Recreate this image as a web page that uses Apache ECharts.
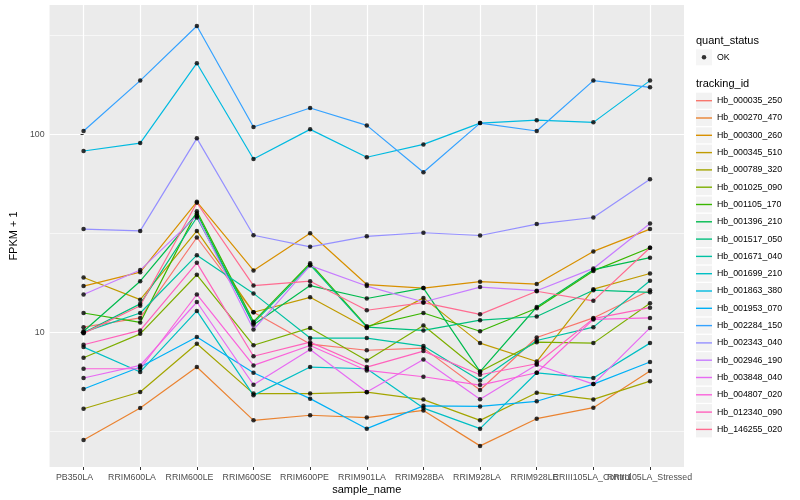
<!DOCTYPE html>
<html><head><meta charset="utf-8">
<script src="https://cdn.jsdelivr.net/npm/echarts@6/dist/echarts.min.js"></script>
<style>html,body{margin:0;padding:0;background:#fff}#c{width:800px;height:500px}</style>
</head><body><div id="c"></div>
<script>
const categories = ["PB350LA","RRIM600LA","RRIM600LE","RRIM600SE","RRIM600PE","RRIM901LA","RRIM928BA","RRIM928LA","RRIM928LE","RRIII105LA_Control","RRIII105LA_Stressed"];
const trackingIds = ["Hb_000035_250","Hb_000270_470","Hb_000300_260","Hb_000345_510","Hb_000789_320","Hb_001025_090","Hb_001105_170","Hb_001396_210","Hb_001517_050","Hb_001671_040","Hb_001699_210","Hb_001863_380","Hb_001953_070","Hb_002284_150","Hb_002343_040","Hb_002946_190","Hb_003848_040","Hb_004807_020","Hb_012340_090","Hb_146255_020"];
const colors = ["#F8766D","#EA8331","#D89000","#C09B00","#A3A500","#7CAE00","#39B600","#00BB4E","#00BF7D","#00C1A3","#00BFC4","#00BAE0","#00B0F6","#35A2FF","#9590FF","#C77CFF","#E76BF3","#FA62DB","#FF62BC","#FF6C91"];

const Hb_000035_250 = [10.6, 11.8, 30.1, 12.6, 8.7, 8.1, 8.3, 5.1, 9.4, 11.8, 16.3];
const Hb_000270_470 = [2.85, 4.13, 6.66, 3.58, 3.80, 3.70, 4.02, 2.66, 3.65, 4.15, 6.36];
const Hb_000300_260 = [17.1, 20.1, 45.6, 20.5, 31.6, 17.4, 16.7, 18.0, 17.5, 25.6, 33.2];
const Hb_000345_510 = [18.9, 14.6, 32.5, 12.6, 15.0, 10.5, 14.9, 8.8, 7.1, 16.5, 19.8];
const Hb_000789_320 = [4.10, 4.98, 8.73, 4.89, 4.89, 4.97, 4.56, 3.58, 4.94, 4.57, 5.65];
const Hb_001025_090 = [7.42, 9.80, 19.5, 8.58, 10.5, 7.19, 10.8, 6.33, 8.90, 8.80, 14.0];
const Hb_001105_170 = [12.5, 11.2, 40.8, 11.3, 22.3, 10.7, 12.5, 10.1, 13.2, 20.4, 26.7];
const Hb_001396_210 = [10.1, 18.1, 39.8, 10.9, 17.2, 14.8, 16.7, 6.31, 13.4, 20.7, 23.8];
const Hb_001517_050 = [9.92, 13.9, 38.0, 11.1, 21.9, 10.6, 10.2, 11.5, 12.0, 16.3, 15.9];
const Hb_001671_040 = [10.0, 12.5, 24.5, 15.7, 9.33, 9.33, 8.50, 5.70, 9.07, 10.6, 18.2];
const Hb_001699_210 = [8.40, 6.29, 12.8, 4.79, 6.66, 6.53, 4.13, 3.25, 6.23, 5.86, 8.80];
const Hb_001863_380 = [82.4, 90.4, 229, 75.1, 106, 76.6, 89.0, 114, 118, 115, 187];
const Hb_001953_070 = [5.16, 6.66, 9.44, 6.23, 4.61, 3.25, 4.24, 4.21, 4.47, 5.46, 7.06];
const Hb_002284_150 = [104, 187, 353, 109, 136, 111, 64.3, 114, 104, 187, 173];
const Hb_002343_040 = [33.2, 32.5, 95.5, 30.9, 27.0, 30.5, 31.8, 30.8, 35.2, 38.0, 59.3];
const Hb_002946_190 = [15.5, 20.6, 38.7, 10.3, 21.7, 17.1, 14.2, 16.9, 16.2, 21.0, 35.4];
const Hb_003848_040 = [5.86, 6.79, 14.2, 5.42, 8.17, 4.98, 7.27, 4.58, 6.84, 5.46, 10.5];
const Hb_004807_020 = [6.53, 6.53, 15.5, 6.79, 8.56, 6.40, 5.95, 5.40, 6.23, 11.6, 11.8];
const Hb_012340_090 = [8.63, 10.2, 22.4, 7.55, 8.90, 6.66, 8.02, 6.09, 6.92, 11.7, 13.3];
const Hb_146255_020 = [9.86, 13.6, 45.1, 17.2, 18.1, 12.9, 14.1, 12.3, 16.1, 14.4, 26.7];

const yTicks = [10, 100];
const yMinorTicks = [3.162, 31.62, 316.2];
const quantStatus = ["OK"];

const seriesValues = [Hb_000035_250, Hb_000270_470, Hb_000300_260, Hb_000345_510, Hb_000789_320,
  Hb_001025_090, Hb_001105_170, Hb_001396_210, Hb_001517_050, Hb_001671_040,
  Hb_001699_210, Hb_001863_380, Hb_001953_070, Hb_002284_150, Hb_002343_040,
  Hb_002946_190, Hb_003848_040, Hb_004807_020, Hb_012340_090, Hb_146255_020];

const FONT = "'Liberation Sans', Arial, Helvetica, sans-serif";
const catIdx = categories.map((c, i) => i);
const yMin = 2.08, yMax = 451;
const expand = 0.6;

// panel geometry
const PL = 40, PR = 116, PT = 5, PB = 31.3;
const panelW = 800 - PL - PR;
const step = panelW / (categories.length - 1 + 2 * expand);
const inset = step * (expand - 0.5);

const lineSeries = trackingIds.map((id, i) => ({
  type: 'line', name: id,
  data: seriesValues[i].map((v, j) => [j, v]),
  showSymbol: false, symbol: 'none',
  lineStyle: { color: colors[i], width: 1.2 },
  itemStyle: { color: colors[i] },
  z: 2, silent: true, emphasis: { disabled: true }
}));
const allPoints = [];
seriesValues.forEach(arr => arr.forEach((v, j) => allPoints.push([j, v])));
const pointSeries = {
  type: 'scatter', name: quantStatus[0], data: allPoints,
  symbol: 'circle', symbolSize: 4.5, itemStyle: { color: '#000' },
  z: 3, silent: true, emphasis: { disabled: true }
};

const linePath = 'path://M0,0M16,16M0,7.3h16v1.4h-16z';
const dotPath = 'path://M0,0M16,16M10.25,8A2.25,2.25,0,1,1,5.75,8A2.25,2.25,0,1,1,10.25,8Z';
const legendBase = { orient: 'vertical', left: 696, padding: 0, itemWidth: 16, itemHeight: 16, itemGap: 1.3,
  selectedMode: false, textStyle: { fontSize: 8.8, color: '#000', fontFamily: FONT } };

const option = {
  animation: false,
  backgroundColor: '#fff',
  grid: [
    { left: PL, right: PR, top: PT, bottom: PB, show: true, backgroundColor: '#EBEBEB', borderWidth: 0 },
    { left: PL + inset, right: PR + inset, top: PT, bottom: PB, show: false }
  ],
  xAxis: [{
    type: 'value', min: -expand, max: categories.length - 1 + expand, gridIndex: 0,
    name: 'sample_name', nameLocation: 'middle', nameGap: 17,
    nameTextStyle: { color: '#000', fontSize: 11, fontFamily: FONT },
    axisLine: { show: false },
    axisTick: { show: true, length: 3, customValues: catIdx, lineStyle: { color: '#333', width: 1 } },
    axisLabel: { show: false },
    splitLine: { show: true, lineStyle: { color: '#fff', width: 1.2 } }
  }, {
    type: 'category', data: categories, gridIndex: 1, boundaryGap: true,
    axisLine: { show: false }, axisTick: { show: false }, splitLine: { show: false },
    axisLabel: { interval: 0, color: '#4D4D4D', fontSize: 8.8, margin: 4.5, fontFamily: FONT }
  }],
  yAxis: [{
    type: 'log', logBase: 10, min: yMin, max: yMax, gridIndex: 0,
    name: 'FPKM + 1', nameLocation: 'middle', nameGap: 22,
    nameTextStyle: { color: '#000', fontSize: 11, fontFamily: FONT },
    axisLine: { show: false },
    axisTick: { show: true, length: 3, customValues: yTicks, lineStyle: { color: '#333', width: 1 } },
    axisLabel: { customValues: yTicks, color: '#4D4D4D', fontSize: 8.8, margin: 5, fontFamily: FONT },
    splitLine: { show: true, lineStyle: { color: '#fff', width: 1.2 } }
  }, {
    type: 'log', logBase: 10, min: yMin, max: yMax, position: 'left', gridIndex: 0,
    axisLine: { show: false },
    axisTick: { show: false, customValues: yMinorTicks },
    axisLabel: { show: false, customValues: yMinorTicks },
    splitLine: { show: true, lineStyle: { color: '#fff', width: 0.6 } }
  }, {
    type: 'value', gridIndex: 1, show: false, min: 0, max: 1,
    splitLine: { show: false }
  }],
  legend: [
    Object.assign({}, legendBase, { top: 49.3, z: 4,
      data: quantStatus.map(n => ({ name: n, icon: 'rect' })),
      itemStyle: { color: '#F2F2F2', borderWidth: 0, borderColor: 'transparent' } }),
    Object.assign({}, legendBase, { top: 49.3, z: 5, formatter: () => '',
      data: quantStatus.map(n => ({ name: n, icon: dotPath, itemStyle: { color: '#000', borderWidth: 0 } })) }),
    Object.assign({}, legendBase, { top: 92.7, z: 4,
      data: trackingIds.map(n => ({ name: n, icon: 'rect' })),
      itemStyle: { color: '#F2F2F2', borderWidth: 0, borderColor: 'transparent' } }),
    Object.assign({}, legendBase, { top: 92.7, z: 5, formatter: () => '',
      data: trackingIds.map((n, i) => ({ name: n, icon: linePath, itemStyle: { color: colors[i], borderWidth: 0 } })) })
  ],
  graphic: [
    { type: 'text', x: 696, y: 40.7, silent: true, style: { text: 'quant_status', fill: '#000', fontSize: 11, fontFamily: FONT, verticalAlign: 'middle' } },
    { type: 'text', x: 696, y: 84.3, silent: true, style: { text: 'tracking_id', fill: '#000', fontSize: 11, fontFamily: FONT, verticalAlign: 'middle' } }
  ],
  series: lineSeries.concat([pointSeries])
};
const chart = echarts.init(document.getElementById('c'), null, { renderer: 'canvas' });
chart.setOption(option);
</script>
</body></html>
